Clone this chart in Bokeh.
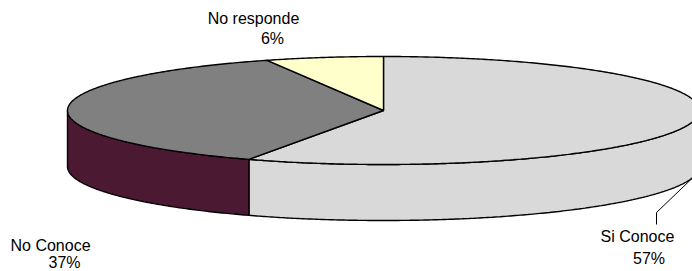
import numpy as np
from bokeh.plotting import figure
from bokeh.models import Range1d
from bokeh.embed import file_html
from bokeh.resources import INLINE
from bokeh.core.properties import value

# ---- data ----
categories = ["Si Conoce", "No Conoce", "No responde"]
values = [57, 37, 6]
pct_labels = ["57%", "37%", "6%"]
top_colors = ["#D9D9D9", "#808080", "#FFFFCC"]
side_colors = ["#D9D9D9", "#4C1933", "#FFFFCC"]

# ---- geometry (pixel space of the page) ----
cx, cy, a, b, depth = 383.0, 110.0, 316.0, 54.0, 56.0

p = figure(width=692, height=271, output_backend="svg", toolbar_location=None,
           x_range=Range1d(0, 692), y_range=Range1d(271, 0),
           x_axis_location=None, y_axis_location=None, min_border=0)
p.grid.visible = False
p.outline_line_color = None
p.background_fill_color = "white"
p.border_fill_color = "white"


def arc(t0, t1, dy=0.0, n=None):
    if n is None:
        n = max(2, int(abs(t1 - t0) * 2) + 2)
    t = np.radians(np.linspace(t0, t1, n))
    return cx + a * np.cos(t), cy - b * np.sin(t) + dy


total = float(sum(values))
start = 90.0
spans = []
cum = 0.0
for v in values:
    hi = start - cum / total * 360.0
    cum += v
    lo = start - cum / total * 360.0
    spans.append((lo, hi))

# side walls (front half only)
side_xs, side_ys, side_cols = [], [], []
for (lo, hi), col in zip(spans, side_colors):
    for f0, f1 in [(-180.0, 0.0), (180.0, 360.0), (-540.0, -360.0)]:
        t0, t1 = max(lo, f0), min(hi, f1)
        if t1 - t0 > 1e-6:
            x1, y1 = arc(t0, t1)
            x2, y2 = arc(t1, t0, depth)
            side_xs.append(list(np.concatenate([x1, x2])))
            side_ys.append(list(np.concatenate([y1, y2])))
            side_cols.append(col)
p.patches(side_xs, side_ys, fill_color=side_cols, line_color="black", line_width=1.4)

# top faces
top_xs, top_ys = [], []
for (lo, hi) in spans:
    x1, y1 = arc(lo, hi)
    top_xs.append([cx] + list(x1))
    top_ys.append([cy] + list(y1))
p.patches(top_xs, top_ys, fill_color=top_colors, line_color="black", line_width=1.4)

# leader line for "Si Conoce"
lt = np.radians(-11.0)
lx0, ly0 = cx + a * np.cos(lt), cy - b * np.sin(lt) + depth
p.line([lx0, 656, 656], [ly0, 212, 224], line_color="black", line_width=1)

# labels
font = value("Liberation Sans")
name_x = [637, 50, 253]
name_y = [236, 245, 18]
pct_x = [648.5, 64, 272]
pct_y = [258, 262, 38]
p.text(x=name_x, y=name_y, text=categories, text_font=font, text_font_size="16px",
       text_align="center", text_baseline="alphabetic", text_color="black")
p.text(x=pct_x, y=pct_y, text=pct_labels, text_font=font, text_font_size="16px",
       text_align="center", text_baseline="alphabetic", text_color="black")

open("out.html", "w").write(file_html(p, INLINE))
